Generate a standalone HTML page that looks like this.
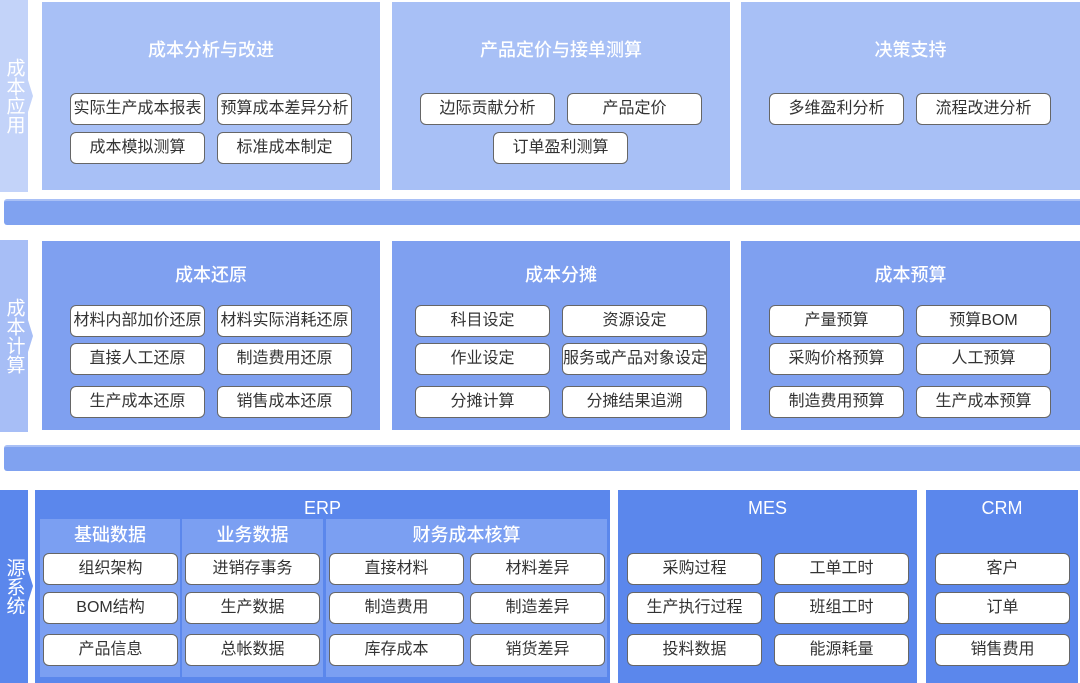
<!DOCTYPE html>
<html><head><meta charset="utf-8"><style>
*{margin:0;padding:0;box-sizing:border-box}
body{width:1080px;height:683px;background:#fff;position:relative;overflow:hidden;font-family:"Liberation Sans","Noto Sans CJK SC",sans-serif}
.a{position:absolute}
.p{position:absolute}
.t{position:absolute;left:0;right:0;text-align:center;color:#fff;font-size:18px;line-height:22px;font-weight:500}
.b{position:absolute;width:135px;height:32px;background:#fff;border:1px solid #666;border-radius:6px;text-align:center;line-height:30px;font-size:16px;color:#333;white-space:nowrap}
.side{position:absolute;left:0;width:34px;color:#fff;font-size:19px;line-height:21px;display:flex;align-items:center;justify-content:center;padding-right:6px;writing-mode:vertical-rl}
.band{position:absolute;left:4px;width:1076px;height:26px;background:#80a2f0;border-radius:3px 0 0 3px;border-top:2px solid #a9c0f6}
</style></head><body>
<div class="side" style="top:0;height:192px;background:#c3d3f9;clip-path:polygon(0 0,28px 0,28px 80px,33px 96px,28px 112px,28px 100%,0 100%)">成本应用</div>
<div class="side" style="top:240px;height:192px;background:#a7bef6;clip-path:polygon(0 0,28px 0,28px 80px,33px 96px,28px 112px,28px 100%,0 100%)">成本计算</div>
<div class="side" style="top:490px;height:193px;background:#5b87ec;clip-path:polygon(0 0,28px 0,28px 80px,33px 96px,28px 112px,28px 100%,0 100%)">源系统</div>

<div class="p" style="left:42px;top:2px;width:338px;height:188px;background:#a8c0f6"><div class="t" style="top:37px">成本分析与改进</div>
<div class="b" style="left:28px;top:91px">实际生产成本报表</div><div class="b" style="left:175px;top:91px">预算成本差异分析</div>
<div class="b" style="left:28px;top:130px">成本模拟测算</div><div class="b" style="left:175px;top:130px">标准成本制定</div></div>
<div class="p" style="left:392px;top:2px;width:338px;height:188px;background:#a8c0f6"><div class="t" style="top:37px">产品定价与接单测算</div>
<div class="b" style="left:28px;top:91px">边际贡献分析</div><div class="b" style="left:175px;top:91px">产品定价</div>
<div class="b" style="left:101px;top:130px">订单盈利测算</div></div>
<div class="p" style="left:741px;top:2px;width:339px;height:188px;background:#a8c0f6"><div class="t" style="top:37px">决策支持</div>
<div class="b" style="left:28px;top:91px">多维盈利分析</div><div class="b" style="left:175px;top:91px">流程改进分析</div></div>

<div class="band" style="top:199px"></div>

<div class="p" style="left:42px;top:241px;width:338px;height:189px;background:#7fa0f0"><div class="t" style="top:23px">成本还原</div>
<div class="b" style="left:28px;top:64px">材料内部加价还原</div><div class="b" style="left:175px;top:64px">材料实际消耗还原</div>
<div class="b" style="left:28px;top:102px">直接人工还原</div><div class="b" style="left:175px;top:102px">制造费用还原</div>
<div class="b" style="left:28px;top:145px">生产成本还原</div><div class="b" style="left:175px;top:145px">销售成本还原</div></div>
<div class="p" style="left:392px;top:241px;width:338px;height:189px;background:#7fa0f0"><div class="t" style="top:23px">成本分摊</div>
<div class="b" style="left:23px;top:64px">科目设定</div><div class="b" style="left:170px;top:64px;width:145px">资源设定</div>
<div class="b" style="left:23px;top:102px">作业设定</div><div class="b" style="left:170px;top:102px;width:145px">服务或产品对象设定</div>
<div class="b" style="left:23px;top:145px">分摊计算</div><div class="b" style="left:170px;top:145px;width:145px">分摊结果追溯</div></div>
<div class="p" style="left:741px;top:241px;width:339px;height:189px;background:#7fa0f0"><div class="t" style="top:23px">成本预算</div>
<div class="b" style="left:28px;top:64px">产量预算</div><div class="b" style="left:175px;top:64px">预算BOM</div>
<div class="b" style="left:28px;top:102px">采购价格预算</div><div class="b" style="left:175px;top:102px">人工预算</div>
<div class="b" style="left:28px;top:145px">制造费用预算</div><div class="b" style="left:175px;top:145px">生产成本预算</div></div>

<div class="band" style="top:445px"></div>

<div class="p" style="left:35px;top:490px;width:575px;height:193px;background:#5b87ec"><div class="t" style="top:7px">ERP</div>
<div class="a" style="left:5px;top:29px;width:140px;height:158px;background:#7b9ff2"></div>
<div class="a" style="left:147px;top:29px;width:141px;height:158px;background:#7b9ff2"></div>
<div class="a" style="left:291px;top:29px;width:281px;height:158px;background:#7b9ff2"></div>
<div class="t" style="left:5px;right:auto;width:140px;top:34px">基础数据</div>
<div class="t" style="left:147px;right:auto;width:141px;top:34px">业务数据</div>
<div class="t" style="left:291px;right:auto;width:281px;top:34px">财务成本核算</div>
<div class="b" style="left:8px;top:63px">组织架构</div><div class="b" style="left:150px;top:63px">进销存事务</div><div class="b" style="left:294px;top:63px">直接材料</div><div class="b" style="left:435px;top:63px">材料差异</div>
<div class="b" style="left:8px;top:102px">BOM结构</div><div class="b" style="left:150px;top:102px">生产数据</div><div class="b" style="left:294px;top:102px">制造费用</div><div class="b" style="left:435px;top:102px">制造差异</div>
<div class="b" style="left:8px;top:144px">产品信息</div><div class="b" style="left:150px;top:144px">总帐数据</div><div class="b" style="left:294px;top:144px">库存成本</div><div class="b" style="left:435px;top:144px">销货差异</div></div>
<div class="p" style="left:618px;top:490px;width:299px;height:193px;background:#5b87ec"><div class="t" style="top:7px">MES</div>
<div class="b" style="left:9px;top:63px">采购过程</div><div class="b" style="left:156px;top:63px">工单工时</div>
<div class="b" style="left:9px;top:102px">生产执行过程</div><div class="b" style="left:156px;top:102px">班组工时</div>
<div class="b" style="left:9px;top:144px">投料数据</div><div class="b" style="left:156px;top:144px">能源耗量</div></div>
<div class="p" style="left:926px;top:490px;width:152px;height:193px;background:#5b87ec"><div class="t" style="top:7px">CRM</div>
<div class="b" style="left:9px;top:63px">客户</div>
<div class="b" style="left:9px;top:102px">订单</div>
<div class="b" style="left:9px;top:144px">销售费用</div></div>
</body></html>
